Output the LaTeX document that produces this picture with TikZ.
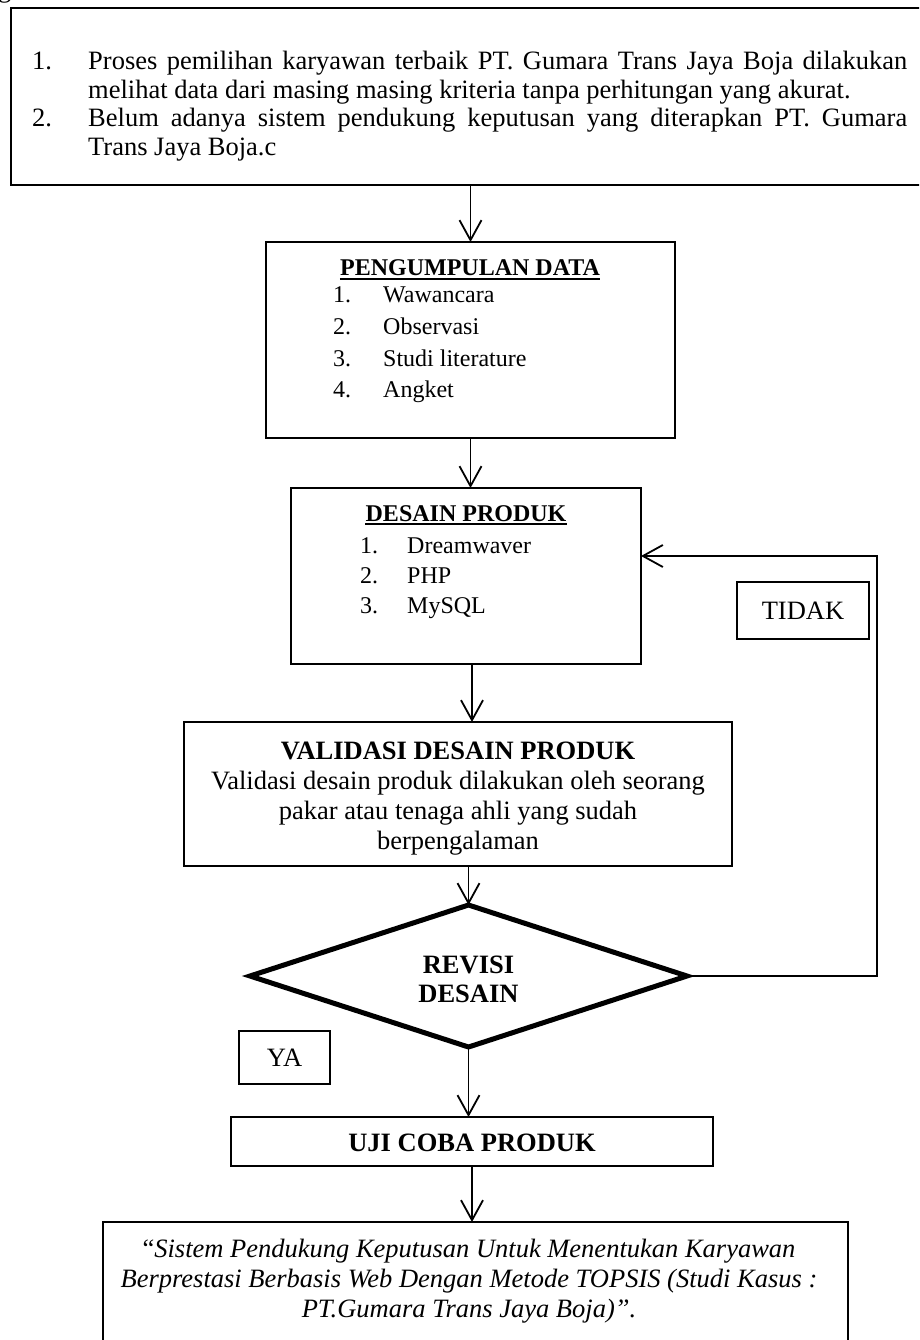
\documentclass[tikz,border=0pt]{standalone}
\usepackage{fontspec}
\setmainfont{Liberation Serif}
\usetikzlibrary{arrows.meta,shapes.geometric}
\newcommand{\bigtext}{\fontsize{26.5}{28.5}\selectfont}
\newcommand{\listtext}{\fontsize{24}{28}\selectfont}
\begin{document}
\begin{tikzpicture}[x=1pt,y=-1pt,
  every node/.style={font=\bigtext},
  box/.style={draw, line width=1.2pt, inner sep=0pt, outer sep=0pt, anchor=north west},
  tag/.style={draw, line width=1.2pt, inner sep=0pt, outer sep=0pt},
  txt/.style={inner sep=0pt, anchor=base west},
  ltxt/.style={inner sep=0pt, anchor=base west, font=\listtext},
  ctxt/.style={inner sep=0pt, anchor=base},
  head/.style={inner sep=0pt, anchor=base, font=\bigtext\bfseries},
  lhead/.style={inner sep=0pt, anchor=base, font=\listtext\bfseries},
  arr/.style={line width=1.8pt, -{Straight Barb[length=20pt,width=22pt]}},
  uline/.style={line width=1.8pt},
]
\path[use as bounding box, clip] (0,0) rectangle (919,1340);
\fill[white] (0,0) rectangle (919,1340);

% clipped glyph at the upper edge
\node[txt] (cut) at (-2,-2) {g};

% problem statement
\node[box, minimum width=930pt, minimum height=177pt] (prob) at (11,8) {};
\node[txt] (p1n) at (32,70) {1.};
\node[txt] (p1) at (88,70) {\parbox[t]{819pt}{Proses pemilihan karyawan terbaik PT. Gumara Trans Jaya Boja dilakukan\linebreak melihat data dari masing masing kriteria tanpa perhitungan yang akurat.}};
\node[txt] (p2n) at (32,127) {2.};
\node[txt] (p2) at (88,127) {\parbox[t]{819pt}{Belum adanya sistem pendukung keputusan yang diterapkan PT. Gumara\linebreak Trans Jaya Boja.c}};

% data collection
\node[box, minimum width=409pt, minimum height=196pt] (pd) at (266,242) {};
\node[lhead] (pdh) at (470,276) {PENGUMPULAN DATA};
\draw[uline] ([yshift=-3pt]pdh.base west) -- ([yshift=-3pt]pdh.base east);
\node[ltxt] (pd1n) at (333,302) {1.};  \node[ltxt] (pd1) at (383,302) {Wawancara};
\node[ltxt] (pd2n) at (333,334) {2.};  \node[ltxt] (pd2) at (383,334) {Observasi};
\node[ltxt] (pd3n) at (333,366) {3.};  \node[ltxt] (pd3) at (383,366) {Studi literature};
\node[ltxt] (pd4n) at (333,397) {4.};  \node[ltxt] (pd4) at (383,397) {Angket};

% product design
\node[box, minimum width=350pt, minimum height=176pt] (dsn) at (291,488) {};
\node[lhead] (dsnh) at (466,521) {DESAIN PRODUK};
\draw[uline] ([yshift=-3pt]dsnh.base west) -- ([yshift=-3pt]dsnh.base east);
\node[ltxt] (ds1n) at (360,553) {1.};  \node[ltxt] (ds1) at (407,553) {Dreamwaver};
\node[ltxt] (ds2n) at (360,583) {2.};  \node[ltxt] (ds2) at (407,583) {PHP};
\node[ltxt] (ds3n) at (360,613) {3.};  \node[ltxt] (ds3) at (407,613) {MySQL};

% validation
\node[box, minimum width=548pt, minimum height=144pt] (val) at (184,722) {};
\node[head] (valh) at (458,759) {VALIDASI DESAIN PRODUK};
\node[ctxt] (val1) at (458,789) {Validasi desain produk dilakukan oleh seorang};
\node[ctxt] (val2) at (458,819) {pakar atau tenaga ahli yang sudah};
\node[ctxt] (val3) at (458,849) {berpengalaman};

% decision
\node[draw, diamond, line width=5pt, inner sep=0pt, outer sep=0pt,
      minimum width=437pt, minimum height=142pt] (rev) at (468.5,976) {};
\node[head] (revh1) at (468.5,973) {REVISI};
\node[head] (revh2) at (468.5,1002) {DESAIN};

% branch labels
\node[tag, minimum width=132pt, minimum height=57pt] (tidak) at (803,610.5) {TIDAK};
\node[tag, minimum width=91pt, minimum height=53pt] (ya) at (284.5,1057.5) {YA};

% trial
\node[box, minimum width=482pt, minimum height=49pt] (uji) at (231,1117) {};
\node[head] (ujih) at (472,1151) {UJI COBA PRODUK};

% title of the system
\node[box, minimum width=745pt, minimum height=160pt] (bot) at (103,1222) {};
\node[ctxt] (b1) at (469,1257) {“\textit{Sistem Pendukung Keputusan Untuk Menentukan Karyawan}};
\node[ctxt, font=\bigtext\itshape] (b2) at (469,1287) {Berprestasi Berbasis Web Dengan Metode TOPSIS (Studi Kasus :};
\node[ctxt, font=\bigtext\itshape] (b3) at (469,1317) {PT.Gumara Trans Jaya Boja)”.};

% connectors
\draw[arr] (prob.south -| pd.north) -- (pd.north);
\draw[arr] (pd.south) -- (pd.south |- dsn.north);
\draw[arr] ([xshift=6pt]dsn.south) -- ([xshift=6pt]dsn.south |- val.north);
\draw[arr] (rev.north |- val.south) -- (rev.north);
\draw[arr] (rev.south) -- (rev.south |- uji.north);
\draw[arr] (uji.south) -- (uji.south |- bot.north);
\coordinate (loop) at (877,556);
\draw[arr] (rev.east) -| (loop) -- (loop -| dsn.east);
\end{tikzpicture}
\end{document}
